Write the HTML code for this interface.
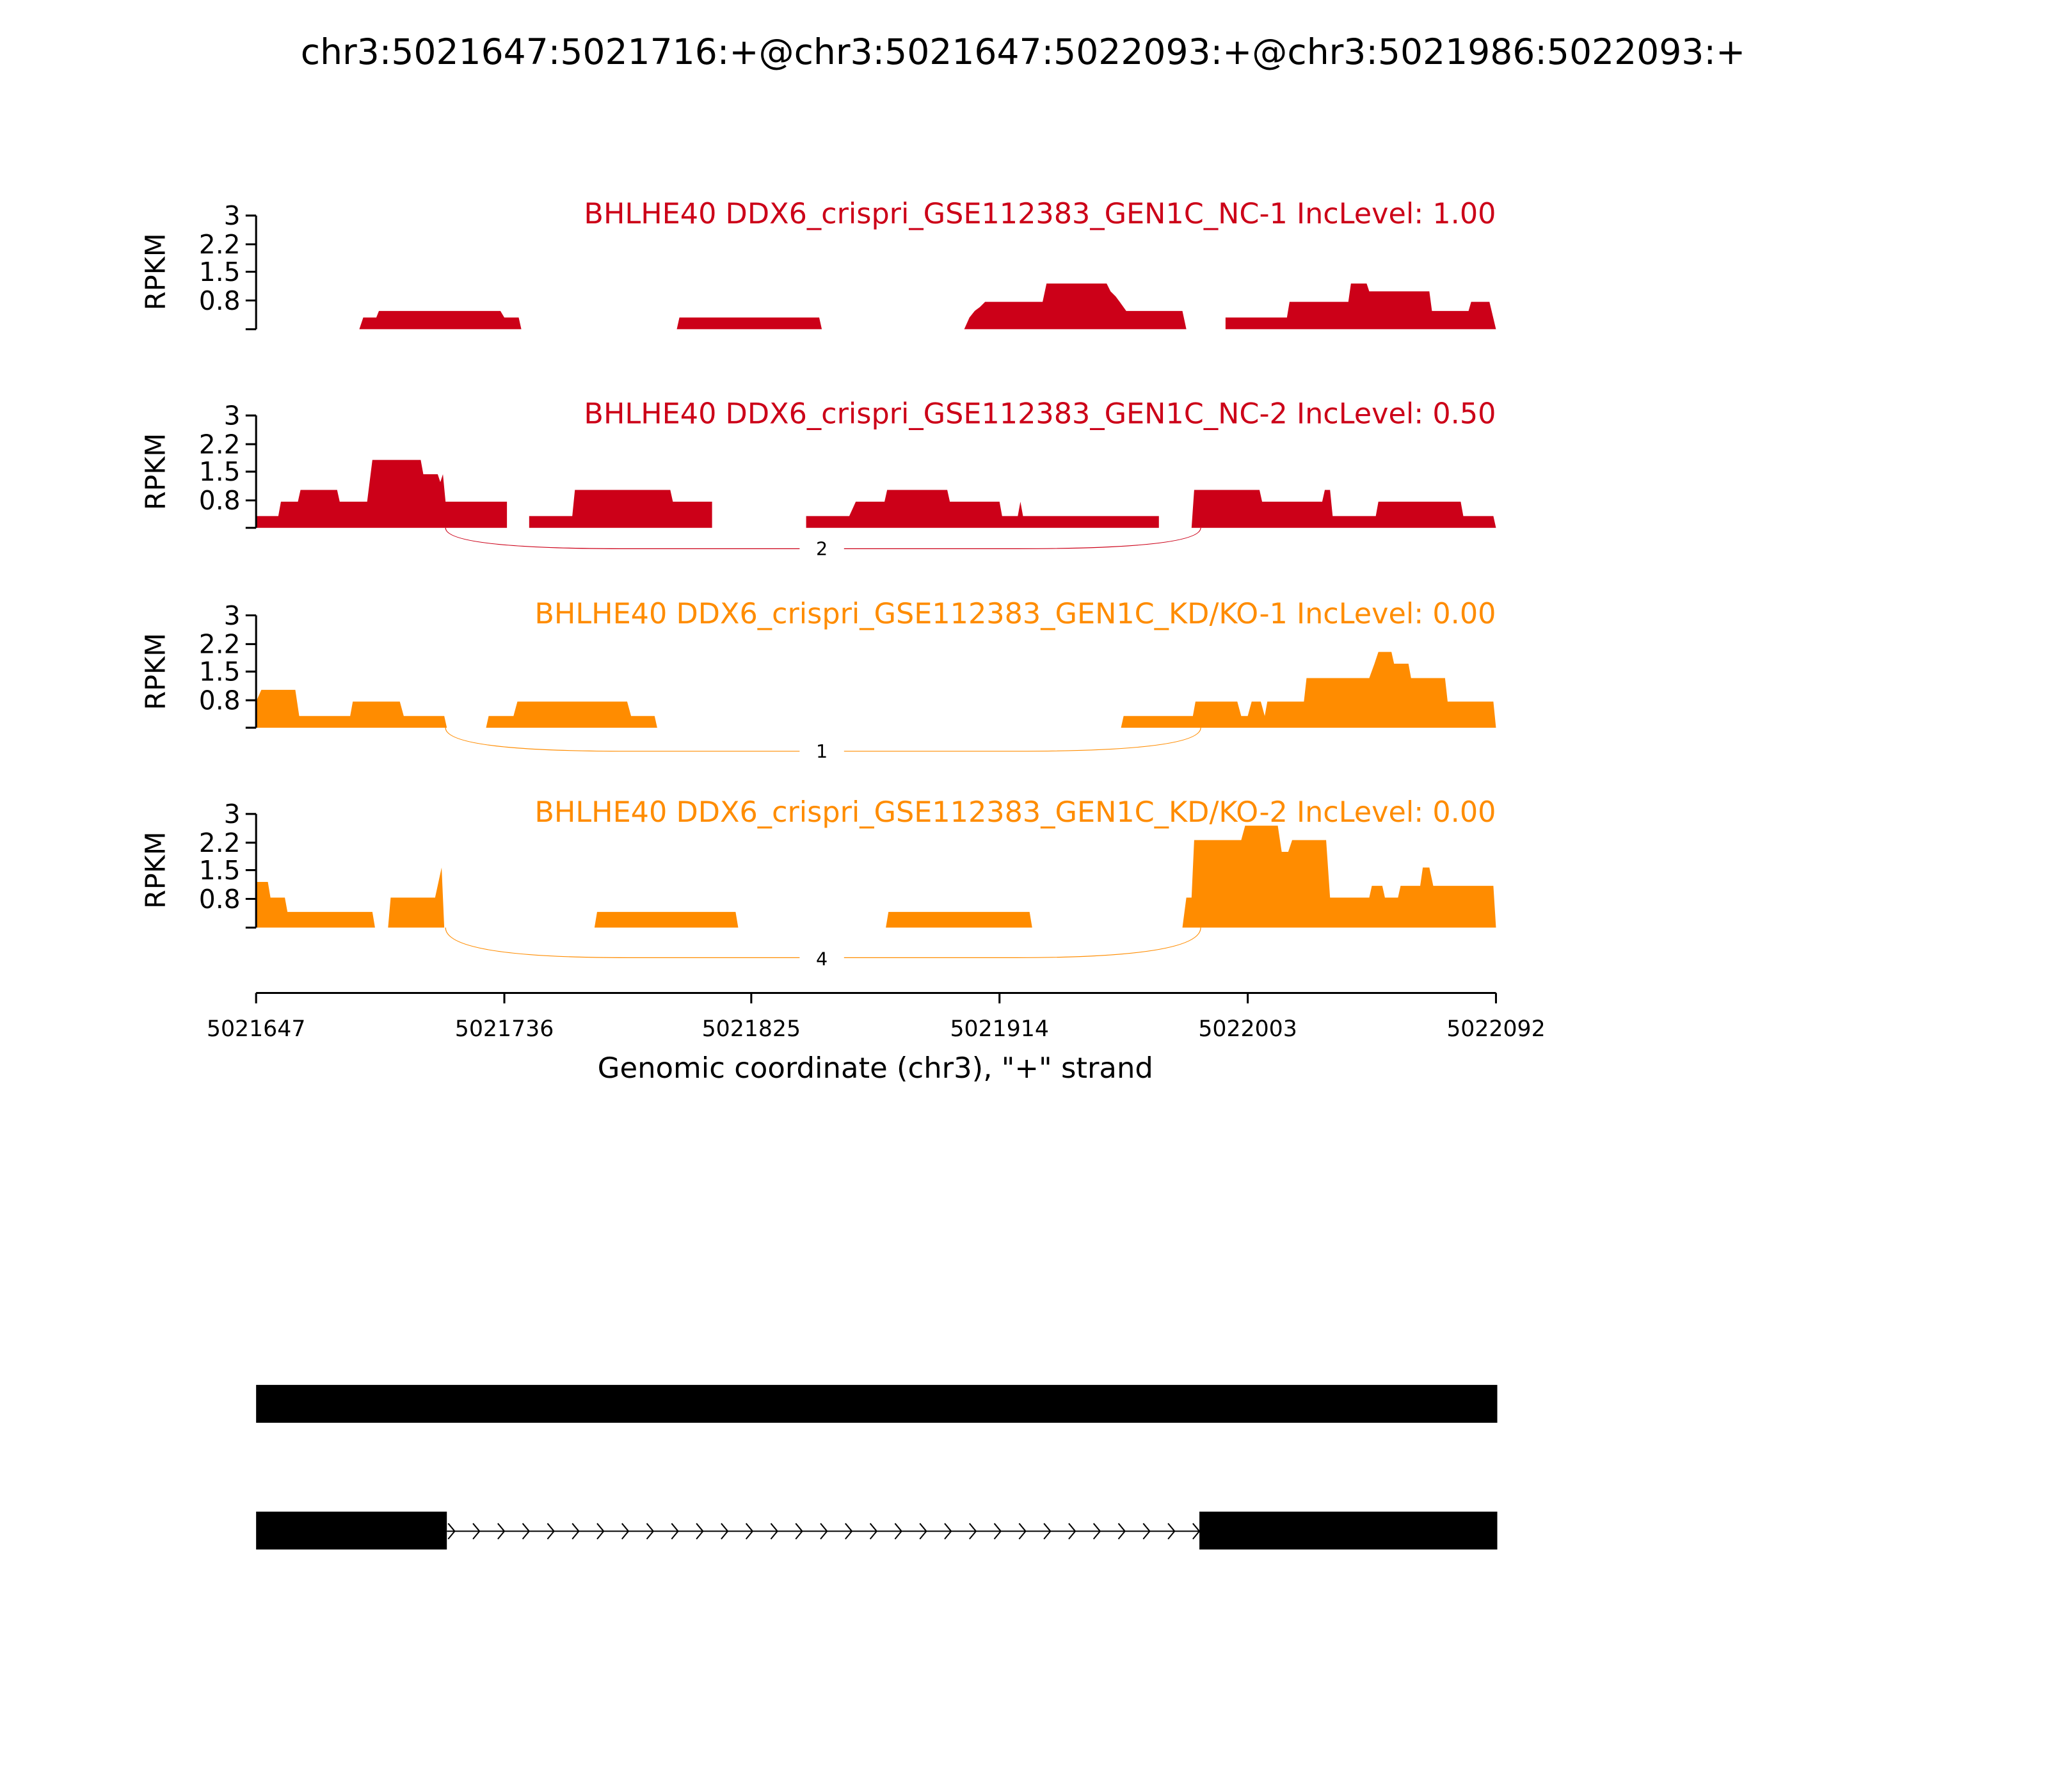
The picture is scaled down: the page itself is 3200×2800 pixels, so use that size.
<!DOCTYPE html>
<html><head><meta charset="utf-8"><style>html,body{margin:0;padding:0;background:#fff}svg{display:block}</style></head><body>
<svg width="3200" height="2800" viewBox="0 0 1567.5 1371.6" xmlns="http://www.w3.org/2000/svg" font-family="'DejaVu Sans','Liberation Sans',sans-serif">
<rect width="1567.5" height="1371.6" fill="#fff"/>
<text x="783" y="49" font-size="27" text-anchor="middle">chr3:5021647:5021716:+@chr3:5021647:5022093:+@chr3:5021986:5022093:+</text>

<g>
<polygon fill="#cc0018" points="196,252 275,252 278,243 288,243 290,238 383,238 386,243 397,243 399,252 518,252 520,243 627,243 629,252 738,252 742,243 746,238 750,235 754,231 798,231 801,217 847,217 850,223 854,227 857,231 862,238 905,238 908,252 938,252 938,243 985,243 987,231 1032,231 1034,217 1046,217 1048,223 1094,223 1096,238 1124,238 1126,231 1140,231 1145,252"/>
<g stroke="#000" stroke-width="1.5" fill="none"><path d="M196,165V252M188,165H196M188,187H196M188,208H196M188,230H196M188,252H196"/></g>
<g font-size="20" text-anchor="end"><text x="184" y="172">3</text><text x="184" y="194">2.2</text><text x="184" y="215">1.5</text><text x="184" y="237">0.8</text></g>
<text transform="translate(126,208) rotate(-90)" font-size="21" text-anchor="middle">RPKM</text>
<text x="1145" y="171" font-size="21.8" text-anchor="end" fill="#cc0018">BHLHE40 DDX6_crispri_GSE112383_GEN1C_NC-1 IncLevel: 1.00</text>
</g>

<g>
<polygon fill="#cc0018" points="196,404 196,395 213,395 215,384 228,384 230,375 258,375 260,384 281,384 285,352 322,352 324,363 335,363 337,369 339,363 341,384 388,384 388,404 405,404 405,395 438,395 440,375 513,375 515,384 545,384 545,404 617,404 617,395 650,395 655,384 677,384 679,375 725,375 727,384 765,384 767,395 779,395 781,384 783,395 887,395 887,404 912,404 914,375 964,375 966,384 1012,384 1014,375 1018,375 1020,395 1053,395 1055,384 1118,384 1120,395 1143,395 1145,404"/>
<path d="M341,404 Q341,420 480,420 L778,420 Q919,420 919,404" stroke="#cc0018" stroke-width="0.6" fill="none"/>
<rect x="612" y="409" width="34" height="20" fill="#fff"/>
<text x="629" y="425" font-size="14" text-anchor="middle">2</text>
<g stroke="#000" stroke-width="1.5" fill="none"><path d="M196,318V404M188,318H196M188,340H196M188,361H196M188,383H196M188,404H196"/></g>
<g font-size="20" text-anchor="end"><text x="184" y="325">3</text><text x="184" y="347">2.2</text><text x="184" y="368">1.5</text><text x="184" y="390">0.8</text></g>
<text transform="translate(126,361) rotate(-90)" font-size="21" text-anchor="middle">RPKM</text>
<text x="1145" y="324" font-size="21.8" text-anchor="end" fill="#cc0018">BHLHE40 DDX6_crispri_GSE112383_GEN1C_NC-2 IncLevel: 0.50</text>
</g>

<g>
<polygon fill="#ff8c00" points="196,557 196,537 200,528 226,528 229,548 268,548 270,537 306,537 309,548 340,548 342,557 372,557 374,548 393,548 396,537 480,537 483,548 501,548 503,557 858,557 860,548 913,548 915,537 947,537 950,548 955,548 958,537 965,537 968,548 970,537 998,537 1000,519 1048,519 1052,508 1055,499 1065,499 1067,508 1078,508 1080,519 1106,519 1108,537 1143,537 1145,557"/>
<path d="M341,557 Q341,575 480,575 L778,575 Q919,575 919,557" stroke="#ff8c00" stroke-width="0.6" fill="none"/>
<rect x="612" y="565" width="34" height="20" fill="#fff"/>
<text x="629" y="580" font-size="14" text-anchor="middle">1</text>
<g stroke="#000" stroke-width="1.5" fill="none"><path d="M196,471V557M188,471H196M188,493H196M188,514H196M188,536H196M188,557H196"/></g>
<g font-size="20" text-anchor="end"><text x="184" y="478">3</text><text x="184" y="500">2.2</text><text x="184" y="521">1.5</text><text x="184" y="543">0.8</text></g>
<text transform="translate(126,514) rotate(-90)" font-size="21" text-anchor="middle">RPKM</text>
<text x="1145" y="477" font-size="21.8" text-anchor="end" fill="#ff8c00">BHLHE40 DDX6_crispri_GSE112383_GEN1C_KD/KO-1 IncLevel: 0.00</text>
</g>

<g>
<polygon fill="#ff8c00" points="196,710 196,675 205,675 207,687 218,687 220,698 285,698 287,710 297,710 299,687 333,687 338,664 340,710 455,710 457,698 563,698 565,710 678,710 680,698 788,698 790,710 905,710 908,687 912,687 914,643 950,643 953,632 978,632 981,652 986,652 989,643 1015,643 1018,687 1048,687 1050,678 1058,678 1060,687 1070,687 1072,678 1087,678 1089,664 1094,664 1097,678 1143,678 1145,710"/>
<path d="M341,710 Q341,733 480,733 L778,733 Q919,733 919,710" stroke="#ff8c00" stroke-width="0.6" fill="none"/>
<rect x="612" y="723" width="34" height="20" fill="#fff"/>
<text x="629" y="739" font-size="14" text-anchor="middle">4</text>
<g stroke="#000" stroke-width="1.5" fill="none"><path d="M196,623V710M188,623H196M188,645H196M188,666H196M188,688H196M188,710H196"/></g>
<g font-size="20" text-anchor="end"><text x="184" y="630">3</text><text x="184" y="652">2.2</text><text x="184" y="673">1.5</text><text x="184" y="695">0.8</text></g>
<text transform="translate(126,666) rotate(-90)" font-size="21" text-anchor="middle">RPKM</text>
<text x="1145" y="629" font-size="21.8" text-anchor="end" fill="#ff8c00">BHLHE40 DDX6_crispri_GSE112383_GEN1C_KD/KO-2 IncLevel: 0.00</text>
</g>

<g stroke="#000" stroke-width="1.5" fill="none"><path d="M196,760H1145M196,760V768M386,760V768M575,760V768M765,760V768M955,760V768M1145,760V768"/></g>
<g font-size="17" text-anchor="middle"><text x="196" y="793">5021647</text><text x="386" y="793">5021736</text><text x="575" y="793">5021825</text><text x="765" y="793">5021914</text><text x="955" y="793">5022003</text><text x="1145" y="793">5022092</text></g>
<text x="670" y="825" font-size="22" text-anchor="middle">Genomic coordinate (chr3), "+" strand</text>

<rect x="196" y="1060" width="950" height="29" fill="#000"/>
<rect x="196" y="1157" width="146" height="29" fill="#000"/>
<rect x="918" y="1157" width="228" height="29" fill="#000"/>
<line x1="342" y1="1172" x2="918" y2="1172" stroke="#000" stroke-width="1"/>
<g stroke="#000" stroke-width="1" fill="none">
<path d="M343,1166l5,6l-5,6M362,1166l5,6l-5,6M381,1166l5,6l-5,6M400,1166l5,6l-5,6M419,1166l5,6l-5,6M438,1166l5,6l-5,6M457,1166l5,6l-5,6M476,1166l5,6l-5,6M495,1166l5,6l-5,6M514,1166l5,6l-5,6M533,1166l5,6l-5,6M552,1166l5,6l-5,6M571,1166l5,6l-5,6M590,1166l5,6l-5,6M609,1166l5,6l-5,6M628,1166l5,6l-5,6M647,1166l5,6l-5,6M666,1166l5,6l-5,6M685,1166l5,6l-5,6M704,1166l5,6l-5,6M723,1166l5,6l-5,6M742,1166l5,6l-5,6M761,1166l5,6l-5,6M780,1166l5,6l-5,6M799,1166l5,6l-5,6M818,1166l5,6l-5,6M837,1166l5,6l-5,6M856,1166l5,6l-5,6M875,1166l5,6l-5,6M894,1166l5,6l-5,6M913,1166l5,6l-5,6"/>
</g>
</svg>
</body></html>
